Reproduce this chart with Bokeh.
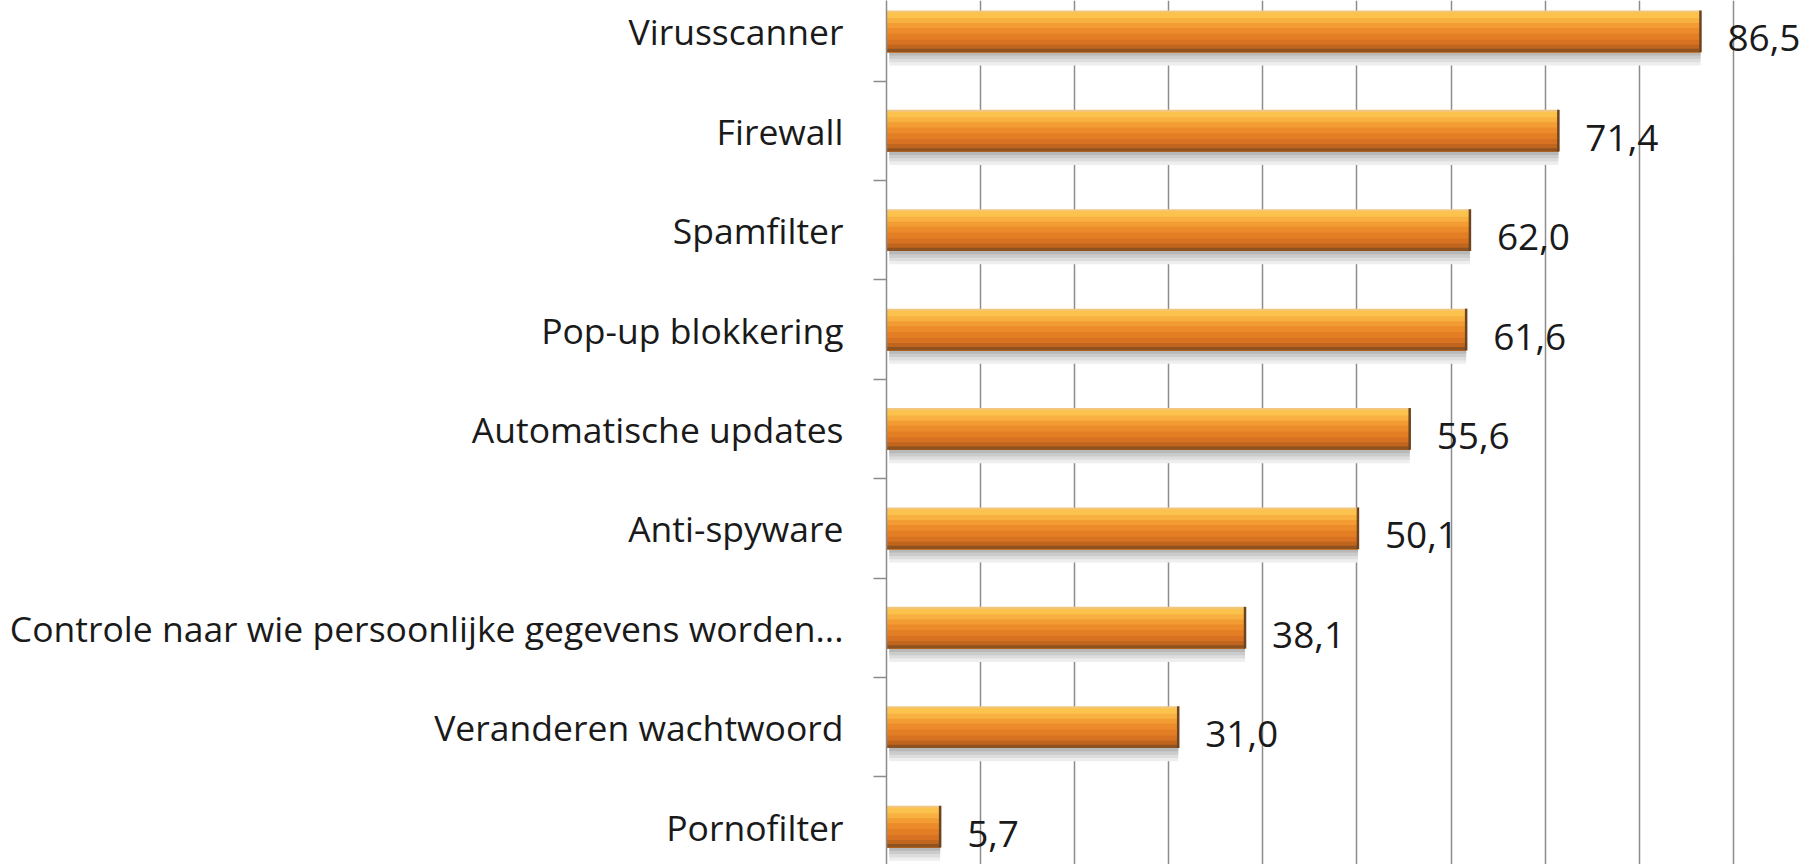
from bokeh.plotting import figure
from bokeh.models import ColumnDataSource, FixedTicker, Range1d
from bokeh.core.properties import value
from bokeh.embed import file_html
from bokeh.resources import INLINE

categories = [
    "Virusscanner",
    "Firewall",
    "Spamfilter",
    "Pop-up blokkering",
    "Automatische updates",
    "Anti-spyware",
    "Controle naar wie persoonlijke gegevens worden...",
    "Veranderen wachtwoord",
    "Pornofilter",
]
values = [86.5, 71.4, 62.0, 61.6, 55.6, 50.1, 38.1, 31.0, 5.7]
grid_ticks = [10, 20, 30, 40, 50, 60, 70, 80, 90]

n = len(categories)
ypos = [n - 1 - i for i in range(n)]
labels = [f"{v:.1f}".replace(".", ",") for v in values]

BAR_H = 0.42
src = ColumnDataSource(dict(y=ypos, v=values, lab=labels,
                            y0=[y - BAR_H / 2 for y in ypos],
                            y1=[y + BAR_H / 2 for y in ypos]))

p = figure(width=1819, height=864, output_backend="svg", toolbar_location=None,
           x_range=Range1d(0, 99.15), y_range=Range1d(-0.382, 8.31),
           min_border_left=886, min_border_right=0, min_border_top=0, min_border_bottom=0)
p.outline_line_color = None
p.background_fill_color = "white"
p.border_fill_color = "white"

p.xaxis.visible = False
p.ygrid.grid_line_color = None
p.xgrid.ticker = FixedTicker(ticks=grid_ticks)
p.xgrid.grid_line_color = "#8c8c8c"
p.xgrid.grid_line_width = 1.5

yax = p.yaxis[0]
yax.ticker = FixedTicker(ticks=ypos, minor_ticks=[k + 0.5 for k in range(-1, n)])
yax.major_label_overrides = {y: c for y, c in zip(ypos, categories)}
yax.major_tick_line_color = None
yax.major_tick_out = 0
yax.major_tick_in = 0
yax.minor_tick_line_color = "#8c8c8c"
yax.minor_tick_line_width = 1.5
yax.minor_tick_out = 13
yax.minor_tick_in = 0
yax.axis_line_color = "#8c8c8c"
yax.axis_line_width = 1.5
yax.major_label_standoff = 30
yax.major_label_text_font = "Open Sans"
yax.major_label_text_font_size = "35.5px"
yax.major_label_text_color = "#1a1a1a"

# shadow below the bar (fraction of bar height below bottom, colour), painted outermost first
shadow = [(0.32, "#eeeeee"), (0.24, "#dddddd"), (0.16, "#cbcbcb"), (0.08, "#b8b8b8")]
for f, col in shadow:
    p.hbar(y=[y - BAR_H / 2 - f / 2 * BAR_H for y in ypos],
           right=values, left=0.3, height=f * BAR_H,
           fill_color=col, line_color=None)

# vertical gradient of the bar (fraction from top where band starts, colour);
# each band reaches to the bar bottom and is overdrawn by the next one
bands = [(0.00, "#f3c67e"), (0.05, "#fbc24c"), (0.18, "#f8b040"),
         (0.30, "#f29c33"), (0.42, "#eb8b2a"), (0.56, "#e37e25"),
         (0.70, "#d77222"), (0.82, "#bf651e"), (0.92, "#8d521f")]
for f0, col in bands:
    p.hbar(y=[y - BAR_H / 2 + (1 - f0) / 2 * BAR_H for y in ypos],
           right=values, left=0, height=(1 - f0) * BAR_H,
           fill_color=col, line_color=None)

# right end edge
p.segment(x0="v", x1="v", y0="y0", y1="y1", source=src,
          line_color="#6e4420", line_width=2.5)

p.text(x="v", y="y", text="lab", source=src, x_offset=27, y_offset=7,
       text_font=value("Open Sans"), text_font_size="37px",
       text_baseline="middle", text_align="left", text_color="#1a1a1a")

open("out.html", "w").write(file_html(p, INLINE))
